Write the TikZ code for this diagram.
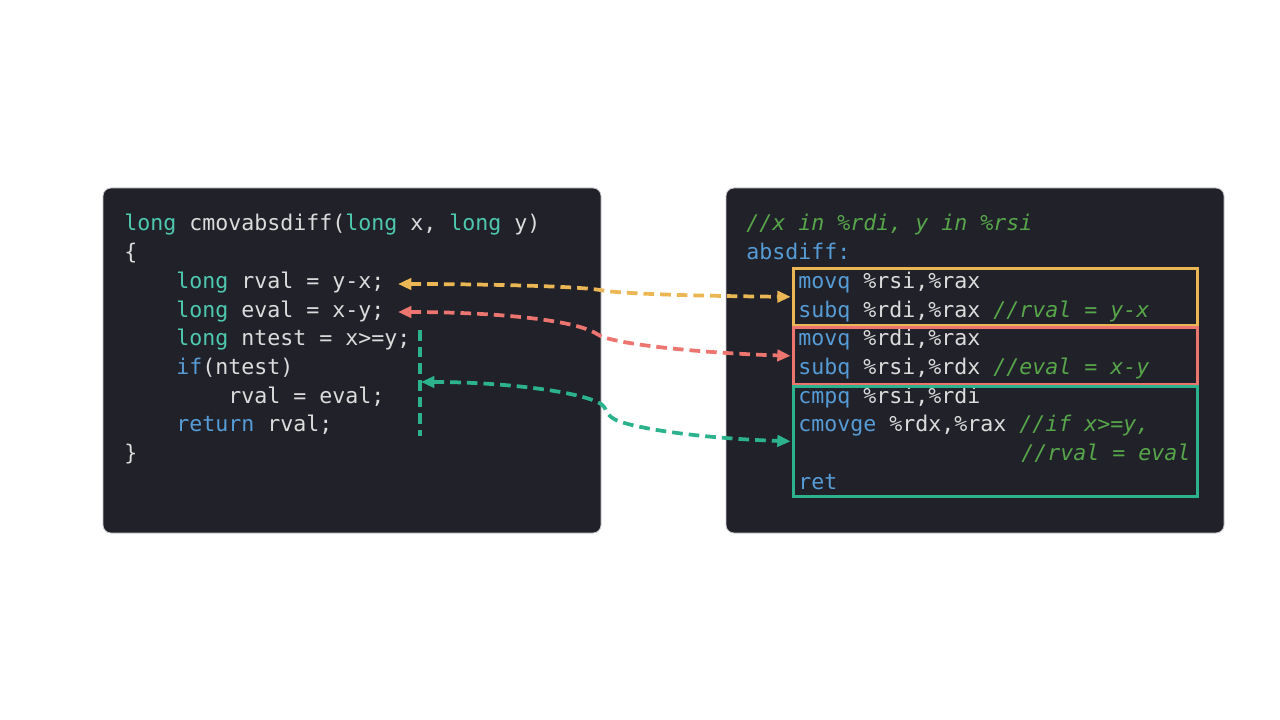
\documentclass[tikz,border=0pt]{standalone}
\usepackage{fontspec}
\setmonofont{DejaVu Sans Mono}
\usetikzlibrary{arrows.meta}

\definecolor{panelbg}{HTML}{202129}
\definecolor{paneledge}{HTML}{C8C8CC}
\definecolor{plain}{HTML}{DCDCDC}
\definecolor{kwteal}{HTML}{4EC9B0}
\definecolor{kwblue}{HTML}{569CD6}
\definecolor{cmgreen}{HTML}{57A64A}
\definecolor{hlyellow}{HTML}{EBB654}
\definecolor{hlred}{HTML}{EC7570}
\definecolor{hlgreen}{HTML}{2CB38E}

\newcommand{\kwt}[1]{\textcolor{kwteal}{#1}}
\newcommand{\kwb}[1]{\textcolor{kwblue}{#1}}
\newcommand{\cmt}[1]{\textcolor{cmgreen}{\itshape #1}}

\begin{document}
\begin{tikzpicture}[x=0.75pt,y=-0.75pt,
  panel/.style={fill=panelbg,draw=paneledge,line width=0.6pt,rounded corners=6pt},
  code/.style={anchor=base west,inner sep=0pt,text=plain,
    font=\ttfamily\fontsize{16.2pt}{20pt}\selectfont},
  hlbox/.style={draw=#1,line width=2pt,anchor=north west,inner sep=0pt,
    minimum width=303pt,minimum height=42.75pt},
  dashline/.style={draw=#1,line width=2.8pt,dash pattern=on 8pt off 4.5pt},
  link/.style={dashline=#1,
    {Triangle[length=10pt,width=8.5pt,fill=#1]}-{Triangle[length=10pt,width=8.5pt,fill=#1]}}
]
\useasboundingbox (0,0) rectangle (1280,720);
\fill[white] (0,0) rectangle (1280,720);

% the two code panels
\draw[panel] (103,188) rectangle (601,533);
\draw[panel] (726,188) rectangle (1224,533);

% C source
\node[code] (c1) at (124,231)   {\kwt{long} cmovabsdiff(\kwt{long} x, \kwt{long} y)};
\node[code] (c2) at (124,259.7) {\{};
\node[code] (c3) at (176,288.4) {\kwt{long} rval = y-x;};
\node[code] (c4) at (176,317.1) {\kwt{long} eval = x-y;};
\node[code] (c5) at (176,345.8) {\kwt{long} ntest = x>=y;};
\node[code] (c6) at (176,374.5) {\kwb{if}(ntest)};
\node[code] (c7) at (228,403.2) {rval = eval;};
\node[code] (c8) at (176,431.9) {\kwb{return} rval;};
\node[code] (c9) at (124,460.6) {\}};

% assembly
\node[code] (a1)  at (746,231)    {\cmt{//x in \%rdi, y in \%rsi}};
\node[code] (a2)  at (746,259.7)  {\kwb{absdiff:}};
\node[code] (a3)  at (798,288.4)  {\kwb{movq} \%rsi,\%rax};
\node[code] (a4)  at (798,317.1)  {\kwb{subq} \%rdi,\%rax \cmt{//rval = y-x}};
\node[code] (a5)  at (798,345.8)  {\kwb{movq} \%rdi,\%rax};
\node[code] (a6)  at (798,374.5)  {\kwb{subq} \%rsi,\%rdx \cmt{//eval = x-y}};
\node[code] (a7)  at (798,403.2)  {\kwb{cmpq} \%rsi,\%rdi};
\node[code] (a8)  at (798,431.9)  {\kwb{cmovge} \%rdx,\%rax \cmt{//if x>=y,}};
\node[code] (a9)  at (1021,460.6) {\cmt{//rval = eval}};
\node[code] (a10) at (798,489.3)  {\kwb{ret}};

% highlighted instruction groups
\node[hlbox=hlyellow] (by) at (792,267) {};
\node[hlbox=hlred]    (br) at (792,326) {};
\node[hlbox=hlgreen,minimum height=82.5pt] (bg) at (792,385) {};

% marker beside the conditional part of the C code
\coordinate (gtop) at (420,330);
\coordinate (gbot) at (420,436);
\draw[dashline=hlgreen] (gtop) -- (gbot);

% free ends on the C side
\coordinate (ly) at (398,284);
\coordinate (lr) at (398,312);
\coordinate (lg) at (421,382);

% connectors
\draw[link=hlyellow] (ly) .. controls (480,284) and (575,286) .. (600,290)
  .. controls (620,294) and (700,296) .. ([xshift=-1pt]by.west);
\draw[link=hlred] (lr) .. controls (480,312) and (572,318) .. (597,334)
  .. controls (610,344) and (700,353) .. ([xshift=-1pt]br.west);
\draw[link=hlgreen] (lg) .. controls (500,382) and (580,391) .. (601,404)
  .. controls (609,410) and (603,414) .. (618,421)
  .. controls (650,432) and (720,439) .. ([xshift=-1pt]bg.west);
\end{tikzpicture}
\end{document}
